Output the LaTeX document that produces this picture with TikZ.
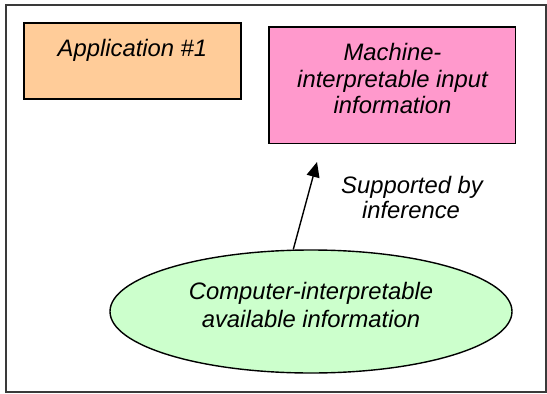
\documentclass[tikz,border=0pt]{standalone}
\usepackage{fontspec}
\setmainfont{Liberation Sans}
\usetikzlibrary{shapes.geometric,arrows.meta}
\definecolor{apporange}{HTML}{FFCC99}
\definecolor{machpink}{HTML}{FF99CC}
\definecolor{availgreen}{HTML}{CCFFCC}
\definecolor{framegray}{HTML}{3A3A3A}
\tikzset{
  lbl/.style={font=\fontsize{23.8}{27}\selectfont\itshape, anchor=base, inner sep=0pt, text=black},
  boxnode/.style={draw=black, line width=1.4pt, inner sep=0pt, rectangle},
  arr/.style={draw=black, line width=1.4pt, -{Triangle[length=15pt,width=13pt]}}
}
\begin{document}
\begin{tikzpicture}[x=1pt,y=-1pt]
\useasboundingbox (0,0) rectangle (547,394);
% frame
\node[draw=framegray, line width=1.3pt, inner sep=0pt, minimum width=540pt, minimum height=387pt] (frame) at (276,198.5) {};
% boxes
\node[boxnode, fill=apporange, minimum width=217pt, minimum height=76pt] (app) at (132.5,61) {};
\node[boxnode, fill=machpink, minimum width=246.5pt, minimum height=116.5pt] (mach) at (392.25,85.25) {};
\node[ellipse, draw=black, line width=1.4pt, fill=availgreen, inner sep=0pt, minimum width=402pt, minimum height=123pt] (ell) at (311,311.5) {};
% texts
\node[lbl] (apptxt) at (132.5,56) {Application \#1};
\node[lbl] (mtxta) at (392.5,60) {Machine-};
\node[lbl] (mtxtb) at (392.5,87) {interpretable input};
\node[lbl] (mtxtc) at (392.5,113) {information};
\node[lbl] (stxta) at (412,193.3) {Supported by};
\node[lbl] (stxtb) at (411,218.3) {inference};
\node[lbl] (etxta) at (311,299) {Computer-interpretable};
\node[lbl] (etxtb) at (311,327.3) {available information};
% arrow
\coordinate (tip) at (317,162);
\draw[arr] (ell.106) -- (tip);
\end{tikzpicture}
\end{document}
